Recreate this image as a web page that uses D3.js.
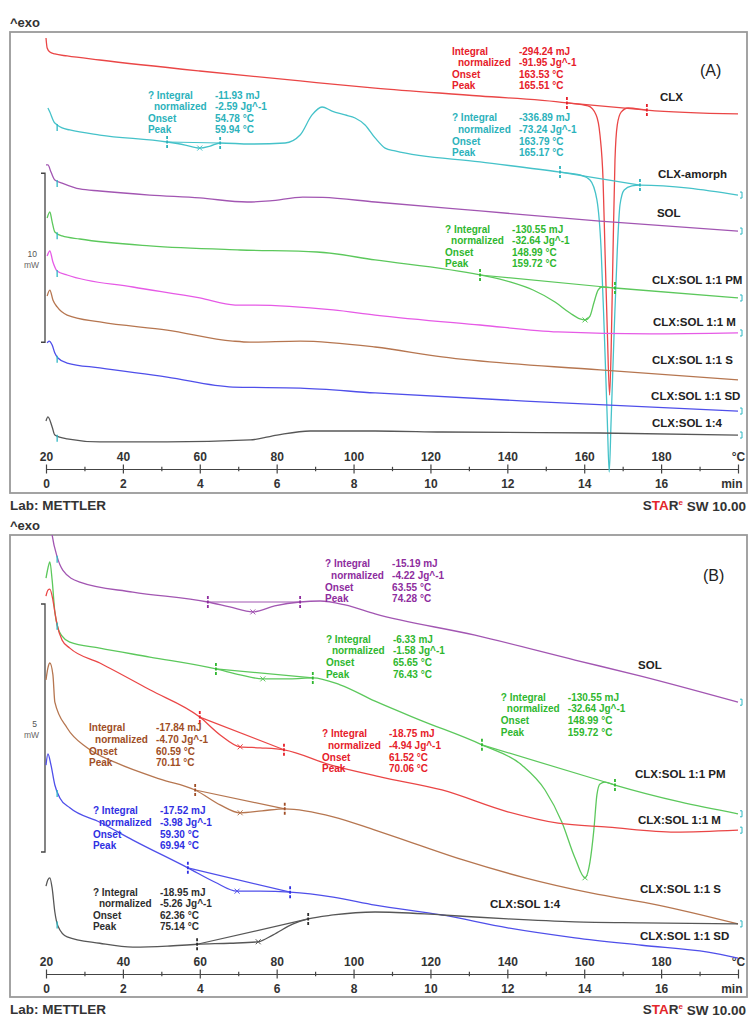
<!DOCTYPE html>
<html>
<head>
<meta charset="utf-8">
<title>DSC thermograms CLX / SOL</title>
<script src="https://cdn.jsdelivr.net/npm/d3@7/dist/d3.min.js"></script>
<style>
  html, body { margin: 0; padding: 0; background: #fff; }
  svg { display: block; }
</style>
</head>
<body>
<div id="chart"></div>
<script>
// Heat flow curves as plotted: [temperature in °C, heat flow in mW (stacked offset)]

// ---- Panel (A) ----
const aCLX = [[20, 25.50], [20.3, 24.91], [21, 24.67], [22.3, 24.56], [25.5, 24.44], [34, 24.20], [60, 23.55],
  [86.1, 22.96], [105.6, 22.54], [132.9, 22.07], [155.5, 21.66], [161.0, 21.48], [163.1, 20.95], [164.1, 19.76],
  [164.9, 17.10], [165.4, 12.96], [166.0, 8.22], [166.6, 4.38], [167.0, 7.04], [167.5, 12.96], [168.0, 18.28],
  [168.6, 20.36], [169.6, 21.12], [171.4, 21.36], [176.3, 21.24], [200, 21.01]];
const aAmorph = [[20.5, 21.36], [21, 21.12], [22.1, 20.53], [22.9, 20.36], [24.2, 20.18], [26.2, 20.06], [34, 19.76],
  [51.5, 19.35], [56.2, 19.17], [60, 18.99], [62.7, 19.11], [65.3, 19.29], [73.1, 19.23], [82.2, 19.29], [86.1, 19.76],
  [89.2, 20.95], [91.8, 21.42], [94.4, 21.18], [97.8, 20.95], [100.4, 20.77], [103, 20.36], [105.6, 19.59],
  [108.2, 18.99], [110.8, 18.82], [132.9, 18.17], [153.7, 17.57], [158.9, 17.40], [161.5, 17.10], [163.3, 15.92],
  [164.4, 12.96], [165.2, 8.22], [166.0, 2.90], [166.5, -0.18], [167.0, 2.90], [167.8, 8.22], [168.6, 12.96],
  [169.3, 15.62], [170.4, 16.51], [172.4, 16.75], [174.5, 16.80], [200, 16.21]];
const aSOL = [[20, 17.99], [20.5, 17.99], [21.3, 17.57], [22.3, 17.10], [24.2, 16.92], [28.8, 16.57], [34, 16.45],
  [47, 16.21], [60, 16.04], [72.3, 15.80], [78.2, 15.86], [86.8, 16.09], [92, 16.07], [105.6, 15.80], [132.9, 15.27],
  [164.1, 14.67], [200, 14.08]];
const aPM = [[20.3, 14.85], [21, 15.21], [21.6, 14.62], [22.3, 14.02], [24.2, 13.79], [28.8, 13.61], [47, 13.20],
  [70.5, 12.96], [90.5, 12.84], [105.6, 12.37], [132.9, 11.48], [140.7, 11.07], [146.7, 10.59], [152.4, 9.88],
  [156.3, 9.23], [158.9, 8.88], [160.2, 8.82], [161.5, 9.05], [162.5, 9.82], [163.6, 10.59], [164.6, 10.77],
  [168, 10.71], [200, 10.12]];
const aM = [[20.3, 12.60], [21, 12.90], [21.8, 12.25], [22.9, 11.72], [25.5, 11.48], [42.6, 10.77], [60, 10.12],
  [69.2, 9.70], [74.4, 9.70], [94.7, 9.41], [105.6, 9.11], [132.9, 8.52], [153.2, 8.11], [177.1, 7.99], [200, 8.05]];
const aS = [[20.3, 10.24], [21, 10.59], [21.8, 10.00], [22.9, 9.59], [25.5, 9.11], [34, 8.70], [51.5, 8.22],
  [68.6, 7.57], [73.1, 7.51], [86.1, 7.57], [105.6, 7.22], [123, 6.63], [164.1, 5.86], [200, 5.27]];
const aSD = [[20.3, 7.46], [20.8, 7.57], [21.6, 7.34], [22.3, 6.86], [23.1, 6.57], [25.5, 6.27], [34, 5.98],
  [51.5, 5.44], [68.6, 4.85], [86.1, 4.79], [105.6, 4.50], [150, 3.96], [200, 3.43]];
const a14 = [[20, 2.84], [20.5, 3.08], [21.6, 2.49], [22.3, 2.01], [25.5, 1.78], [34, 1.60], [51.5, 1.60],
  [73.1, 1.72], [80.1, 2.01], [88.7, 2.25], [105.6, 2.25], [123, 2.19], [164.1, 2.13], [200, 2.01]];

// ---- Panel (B) ----
const bSOL = [[20.5, 9.60], [21.6, 8.85], [22.9, 8.41], [24.4, 8.14], [28.8, 7.90], [42.6, 7.70], [62.1, 7.50],
  [67.8, 7.40], [73.8, 7.30], [79.5, 7.42], [86.1, 7.50], [91.3, 7.52], [97.8, 7.44], [105.6, 7.26], [131.6, 6.83],
  [157.6, 6.33], [174.5, 6.01], [200, 5.48]];
const bPM = [[20, 7.98], [20.5, 8.18], [21, 8.31], [21.6, 7.94], [22.3, 7.30], [23.1, 6.98], [24.2, 6.81],
  [26.2, 6.69], [34, 6.57], [47, 6.39], [64.2, 6.15], [70.5, 6.03], [76.4, 5.95], [83.5, 5.95], [89.4, 5.97],
  [96.5, 5.83], [105.6, 5.50], [117.3, 5.12], [133.4, 4.62], [143.8, 4.21], [149.8, 3.71], [154.2, 3.06],
  [157.6, 2.34], [160.2, 1.94], [161.5, 2.26], [162.5, 2.90], [163.3, 3.61], [164.1, 3.83], [165.4, 3.87],
  [168, 3.81], [184.9, 3.47], [200, 3.23]];
const bM = [[20, 7.62], [20.5, 7.74], [21, 7.76], [21.8, 7.54], [22.3, 7.30], [22.9, 7.04], [24.2, 6.73],
  [26.2, 6.57], [34, 6.27], [47, 5.73], [60, 5.18], [65.3, 4.82], [70.5, 4.58], [75.7, 4.56], [81.9, 4.52],
  [94.2, 4.21], [107.2, 3.97], [123, 3.71], [140.1, 3.27], [153.2, 3.04], [166.2, 2.96], [183.6, 2.86], [200, 2.90]];
const bS = [[20, 5.93], [20.5, 6.17], [21, 6.27], [21.8, 6.03], [22.3, 5.48], [25.5, 4.96], [30.7, 4.56],
  [38.5, 4.25], [49.7, 3.93], [58.8, 3.71], [65.3, 3.41], [70.5, 3.25], [76.2, 3.29], [82.1, 3.33], [94.7, 3.17],
  [105.6, 2.90], [115.5, 2.64], [128.5, 2.30], [144.6, 1.94], [162, 1.63], [179.2, 1.39], [200, 1.01]];
const bSD = [[20, 4.21], [20.5, 4.44], [21.3, 4.21], [22.3, 3.81], [23.6, 3.55], [26.2, 3.35], [34, 3.06],
  [42.6, 2.70], [56.9, 2.14], [64, 1.85], [69.7, 1.67], [75.7, 1.67], [83.5, 1.65], [94.7, 1.55], [105.6, 1.39],
  [123, 1.19], [140.1, 0.93], [157.6, 0.73], [175, 0.58], [192.2, 0.44], [200, 0.32]];
const b14 = [[20, 1.77], [20.5, 1.90], [21, 1.94], [21.6, 1.73], [22.3, 1.25], [23.1, 0.97], [25.5, 0.75],
  [34, 0.62], [42.6, 0.54], [51.5, 0.56], [59.3, 0.60], [67.9, 0.62], [75.2, 0.65], [79.1, 0.79], [84.3, 1.01],
  [88.2, 1.11], [94.7, 1.19], [105.6, 1.25], [123, 1.19], [140.1, 1.11], [157.6, 1.05], [175, 1.03], [200, 1.01]];

// axis ticks
const tempTicks = [20, 40, 60, 80, 100, 120, 140, 160, 180, 200];
const minuteTicks = [0, 2, 4, 6, 8, 10, 12, 14, 16, 18];
const minorMinutes = [1, 3, 5, 7, 9, 11, 13, 15, 17];

// evaluation results (STARe "Integral" boxes)
const valsA_CLX = ['-294.24 mJ', '-91.95 Jg^-1', '163.53 °C', '165.51 °C'];
const valsA_Am1 = ['-11.93 mJ', '-2.59 Jg^-1', '54.78 °C', '59.94 °C'];
const valsA_Am2 = ['-336.89 mJ', '-73.24 Jg^-1', '163.79 °C', '165.17 °C'];
const valsPM_melt = ['-130.55 mJ', '-32.64 Jg^-1', '148.99 °C', '159.72 °C'];
const valsB_SOL = ['-15.19 mJ', '-4.22 Jg^-1', '63.55 °C', '74.28 °C'];
const valsB_PM = ['-6.33 mJ', '-1.58 Jg^-1', '65.65 °C', '76.43 °C'];
const valsB_M = ['-18.75 mJ', '-4.94 Jg^-1', '61.52 °C', '70.06 °C'];
const valsB_S = ['-17.84 mJ', '-4.70 Jg^-1', '60.59 °C', '70.11 °C'];
const valsB_SD = ['-17.52 mJ', '-3.98 Jg^-1', '59.30 °C', '69.94 °C'];
const valsB_14 = ['-18.95 mJ', '-5.26 Jg^-1', '62.36 °C', '75.14 °C'];

// ---- styling ----
const C = {
  red: '#ea4646', redT: '#e6202a',
  cyan: '#45c2c9', cyanT: '#2cb2bb',
  purple: '#a256b2', purpleT: '#8e2c9e',
  green: '#5cc85c', greenT: '#2fb72f',
  magenta: '#e65ae6',
  brown: '#b67650', brownT: '#a04e26',
  blue: '#4f4fea', blueT: '#3030e2',
  gray: '#575757', grayT: '#2e2e2e',
  tick: '#2fb8c4', axis: '#444', frame: '#9a9a9a'
};
const FONT = 'Liberation Sans, Arial, Helvetica, sans-serif';

const W = 749, H = 1017;
const svg = d3.select('#chart').append('svg')
  .attr('width', W).attr('height', H)
  .attr('font-family', FONT);

const x = d3.scaleLinear().domain([20, 200]).range([46, 738]);
const xMin = d3.scaleLinear().domain([0, 18]).range([46, 738]);

// linear lookup on a curve (used to sit markers on the traces)
function valueAt(series, t) {
  const i = d3.bisector(d => d[0]).left(series, t);
  if (i <= 0) return series[0][1];
  if (i >= series.length) return series[series.length - 1][1];
  const a = series[i - 1], b = series[i];
  return a[1] + (b[1] - a[1]) * (t - a[0]) / (b[0] - a[0]);
}

function drawPanel(cfg) {
  const [fx0, fy0, fx1, fy1] = cfg.frame;
  const y = cfg.y;
  const g = svg.append('g');

  const clipId = 'clip-' + cfg.tag;
  g.append('clipPath').attr('id', clipId).append('rect')
    .attr('x', fx0).attr('y', fy0).attr('width', fx1 - fx0).attr('height', fy1 - fy0);

  // ^exo and frame
  g.append('text').attr('x', 10).attr('y', fy0 - 10).attr('dy', '0.35em')
    .attr('font-size', 13).attr('font-weight', 'bold').attr('fill', '#333').text('^exo');
  g.append('rect')
    .attr('x', fx0).attr('y', fy0).attr('width', fx1 - fx0).attr('height', fy1 - fy0)
    .attr('fill', 'none').attr('stroke', C.frame).attr('stroke-width', 1.8);

  // bottom captions
  g.append('text').attr('x', 10).attr('y', fy1 + 12).attr('dy', '0.35em')
    .attr('font-size', 13.5).attr('font-weight', 'bold').attr('fill', '#333').text('Lab: METTLER');
  const star = g.append('text').attr('x', 746).attr('y', fy1 + 12).attr('dy', '0.35em')
    .attr('text-anchor', 'end').attr('font-size', 13.5).attr('font-weight', 'bold').attr('fill', '#333');
  star.append('tspan').text('S');
  star.append('tspan').attr('fill', '#e3262b').text('TA');
  star.append('tspan').text('R');
  star.append('tspan').attr('fill', '#e3262b').attr('font-size', 8).attr('dy', '-0.6em').text('e');
  star.append('tspan').attr('dy', '0.45em').text(' SW 10.00');

  // panel tag
  g.append('text').attr('x', x(cfg.tagAt[0])).attr('y', y(cfg.tagAt[1])).attr('dy', '0.35em')
    .attr('font-size', 16).attr('fill', '#222').text(cfg.title);

  // axes: °C on top of the line, minutes below
  const axisY = cfg.axisY;
  const axG = g.append('g').attr('font-family', FONT);
  const tempAxis = d3.axisTop(x).tickValues(tempTicks).tickSizeInner(4.5).tickSizeOuter(0).tickPadding(3.5)
    .tickFormat(d => d === 200 ? '°C' : d);
  const minAxis = d3.axisBottom(xMin).tickValues(minuteTicks).tickSizeInner(4.5).tickSizeOuter(0).tickPadding(5.5)
    .tickFormat(d => d === 18 ? 'min' : d);
  const minorTop = d3.axisTop(xMin).tickValues(minorMinutes).tickSizeInner(2.2).tickSizeOuter(0).tickFormat('');
  const minorBottom = d3.axisBottom(xMin).tickValues(minorMinutes).tickSizeInner(2.2).tickSizeOuter(0).tickFormat('');
  [tempAxis, minAxis, minorTop, minorBottom].forEach(a => {
    const sel = axG.append('g').attr('transform', `translate(0,${axisY})`).call(a);
    sel.selectAll('line, path').attr('stroke', C.axis).attr('stroke-width', 1.2);
    sel.selectAll('text').attr('font-size', 12).attr('font-weight', 'bold').attr('fill', '#333');
  });
  axG.selectAll('.tick text').filter(d => d === 18).attr('text-anchor', 'end').attr('x', 4);

  // scale bar
  const bx = 45;
  const [b0, b1] = cfg.bar;
  const bar = g.append('g').attr('stroke', '#444').attr('stroke-width', 1.3).attr('fill', 'none');
  bar.append('path').attr('d', `M${bx - 4},${y(b1)}H${bx}V${y(b0)}H${bx - 4}`);
  const mid = (y(b0) + y(b1)) / 2;
  g.append('text').attr('x', bx - 8).attr('y', mid - 4).attr('text-anchor', 'end').attr('dy', '0.35em')
    .attr('font-size', 8.5).attr('fill', '#555').text(cfg.barLabel);
  g.append('text').attr('x', bx - 6).attr('y', mid + 7).attr('text-anchor', 'end').attr('dy', '0.35em')
    .attr('font-size', 8.5).attr('fill', '#666').text('mW');

  // traces
  const line = d3.line().x(d => x(d[0])).y(d => y(d[1])).curve(d3.curveMonotoneX);
  const plot = g.append('g').attr('clip-path', `url(#${clipId})`);
  cfg.curves.forEach(c => {
    plot.append('path').datum(c.data).attr('d', line)
      .attr('fill', 'none').attr('stroke', c.color).attr('stroke-width', 1.3).attr('stroke-linejoin', 'round');
  });

  // evaluation start / end brackets
  cfg.curves.forEach(c => {
    if (c.start) {
      const py = y(valueAt(c.data, 22.9));
      plot.append('line').attr('x1', x(22.9)).attr('x2', x(22.9)).attr('y1', py - 1).attr('y2', py + 6)
        .attr('stroke', C.tick).attr('stroke-width', 1.3);
    }
    if (c.end) {
      const py = y(valueAt(c.data, 200));
      plot.append('path').attr('d', `M${x(200) + 2},${py - 3}h2v6h-2`)
        .attr('fill', 'none').attr('stroke', C.tick).attr('stroke-width', 1);
    }
  });

  // integration baselines, limit markers and peak crosses
  cfg.evals.forEach(e => {
    const p0 = [e.lim[0], valueAt(e.data, e.lim[0])];
    const p1 = [e.lim[1], valueAt(e.data, e.lim[1])];
    plot.append('line')
      .attr('x1', x(p0[0])).attr('y1', y(p0[1])).attr('x2', x(p1[0])).attr('y2', y(p1[1]))
      .attr('stroke', e.color).attr('stroke-width', 1.2);
    [p0, p1].forEach(p => {
      plot.append('line').attr('x1', x(p[0])).attr('x2', x(p[0]))
        .attr('y1', y(p[1]) - 6).attr('y2', y(p[1]) + 6)
        .attr('stroke', e.mark).attr('stroke-width', 1.8).attr('stroke-dasharray', '3,1.5');
    });
    if (e.peak !== undefined) {
      const px = x(e.peak), py = y(valueAt(e.data, e.peak));
      plot.append('path').attr('d', `M${px - 2.5},${py - 2.5}L${px + 2.5},${py + 2.5}M${px - 2.5},${py + 2.5}L${px + 2.5},${py - 2.5}`)
        .attr('stroke', e.color).attr('stroke-width', 1);
    }
  });

  // curve names
  cfg.curves.forEach(c => {
    if (!c.label) return;
    g.append('text').attr('x', x(c.labelAt[0])).attr('y', y(c.labelAt[1])).attr('dy', '0.35em')
      .attr('font-size', 11.5).attr('font-weight', 'bold').attr('fill', '#222').text(c.label);
  });

  // result boxes
  cfg.notes.forEach(n => {
    const nx = x(n.at[0]), ny = y(n.at[1]);
    const rows = [[n.q ? '? Integral' : 'Integral', 0], ['normalized', 6], ['Onset', 0], ['Peak', 0]];
    const ng = g.append('g').attr('font-size', 10).attr('font-weight', 'bold').attr('fill', n.color);
    rows.forEach((r, i) => {
      ng.append('text').attr('x', nx + r[1]).attr('y', ny + i * 11.6).attr('dy', '0.35em').text(r[0]);
      ng.append('text').attr('x', nx + 67).attr('y', ny + i * 11.6).attr('dy', '0.35em').text(n.vals[i]);
    });
  });
}

// Panel (A): 10 mW scale bar
drawPanel({
  tag: 'a', title: '(A)', tagAt: [190.1, 23.6],
  frame: [10, 32, 747, 493], axisY: 469,
  y: d3.scaleLinear().domain([0, 10]).range([469, 300]),
  bar: [7.5, 17.5], barLabel: '10',
  curves: [
    { data: aCLX, color: C.red, label: 'CLX', labelAt: [179.7, 22.01] },
    { data: aAmorph, color: C.cyan, label: 'CLX-amorph', labelAt: [179.2, 17.46], start: true, end: true },
    { data: aSOL, color: C.purple, label: 'SOL', labelAt: [178.9, 15.15], start: true, end: true },
    { data: aPM, color: C.green, label: 'CLX:SOL 1:1 PM', labelAt: [177.6, 11.18], start: true, end: true },
    { data: aM, color: C.magenta, label: 'CLX:SOL 1:1 M', labelAt: [177.9, 8.70], start: true, end: true },
    { data: aS, color: C.brown, label: 'CLX:SOL 1:1 S', labelAt: [177.6, 6.45] },
    { data: aSD, color: C.blue, label: 'CLX:SOL 1:1 SD', labelAt: [177.4, 4.32], start: true, end: true },
    { data: a14, color: C.gray, label: 'CLX:SOL 1:4', labelAt: [177.6, 2.72], start: true, end: true }
  ],
  evals: [
    { data: aCLX, color: C.red, mark: C.redT, lim: [155.5, 176.3] },
    { data: aAmorph, color: C.cyan, mark: C.cyanT, lim: [51.5, 65.3], peak: 60 },
    { data: aAmorph, color: C.cyan, mark: C.cyanT, lim: [153.7, 174.5] },
    { data: aPM, color: C.green, mark: C.greenT, lim: [132.9, 168], peak: 160.2 }
  ],
  notes: [
    { color: C.redT, q: false, at: [125.6, 24.73], vals: valsA_CLX },
    { color: C.cyanT, q: true, at: [46.5, 22.13], vals: valsA_Am1 },
    { color: C.cyanT, q: true, at: [125.6, 20.77], vals: valsA_Am2 },
    { color: C.greenT, q: true, at: [123.8, 14.20], vals: valsPM_melt }
  ]
});

// Panel (B): 5 mW scale bar
drawPanel({
  tag: 'b', title: '(B)', tagAt: [190.9, 8.04],
  frame: [10, 535, 747, 997], axisY: 974,
  y: d3.scaleLinear().domain([0, 5]).range([974, 726]),
  bar: [2.46, 7.46], barLabel: '5',
  curves: [
    { data: bSOL, color: C.purple, label: 'SOL', labelAt: [174, 6.23], start: true, end: true },
    { data: bPM, color: C.green, label: 'CLX:SOL 1:1 PM', labelAt: [173.2, 4.03], start: true, end: true },
    { data: bM, color: C.red, label: 'CLX:SOL 1:1 M', labelAt: [174, 3.10], end: true },
    { data: bS, color: C.brown, label: 'CLX:SOL 1:1 S', labelAt: [174.5, 1.71], end: true },
    { data: bSD, color: C.blue, label: 'CLX:SOL 1:1 SD', labelAt: [174.5, 0.77], start: true },
    { data: b14, color: C.gray, label: 'CLX:SOL 1:4', labelAt: [135.5, 1.41], start: true }
  ],
  evals: [
    { data: bSOL, color: C.purple, mark: C.purpleT, lim: [62.1, 86.1], peak: 73.8 },
    { data: bPM, color: C.green, mark: C.greenT, lim: [64.2, 89.4], peak: 76.4 },
    { data: bPM, color: C.green, mark: C.greenT, lim: [133.4, 168], peak: 160.2 },
    { data: bM, color: C.red, mark: C.redT, lim: [60, 81.9], peak: 70.5 },
    { data: bS, color: C.brown, mark: C.brownT, lim: [58.8, 82.1], peak: 70.5 },
    { data: bSD, color: C.blue, mark: C.blueT, lim: [56.9, 83.5], peak: 69.7 },
    { data: b14, color: C.gray, mark: C.grayT, lim: [59.3, 88.2], peak: 75.2 }
  ],
  notes: [
    { color: C.purpleT, q: true, at: [92.6, 8.27], vals: valsB_SOL },
    { color: C.greenT, q: true, at: [92.8, 6.75], vals: valsB_PM },
    { color: C.greenT, q: true, at: [138.3, 5.58], vals: valsPM_melt },
    { color: C.brownT, q: false, at: [31.2, 4.96], vals: valsB_S },
    { color: C.redT, q: true, at: [91.8, 4.84], vals: valsB_M },
    { color: C.blueT, q: true, at: [32.2, 3.29], vals: valsB_SD },
    { color: C.grayT, q: true, at: [32.2, 1.65], vals: valsB_14 }
  ]
});
</script>
</body>
</html>
